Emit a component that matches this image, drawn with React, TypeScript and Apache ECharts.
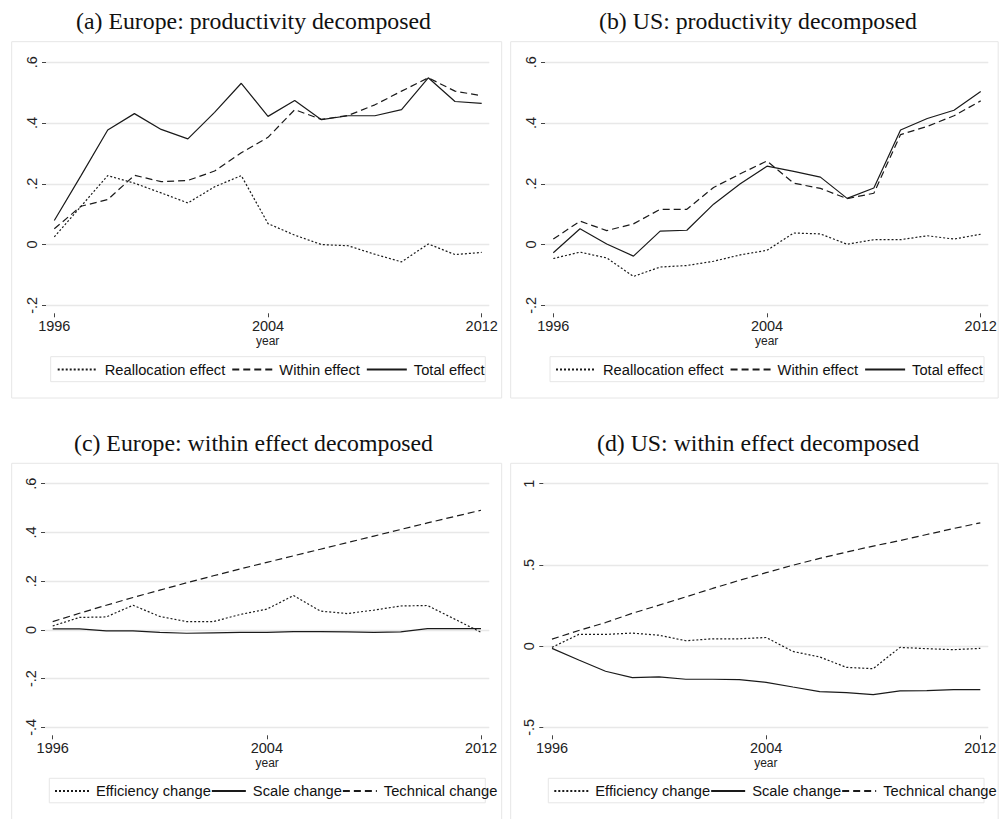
import React, { useEffect, useRef } from "react";
import * as echarts from "echarts";

// ---- data ----
const years = [1996, 1997, 1998, 1999, 2000, 2001, 2002, 2003, 2004, 2005, 2006, 2007, 2008, 2009, 2010, 2011, 2012];
const xTickYears = [1996, 2004, 2012];

// (a) Europe: productivity decomposed
const euReallocation = [0.025, 0.126, 0.227, 0.202, 0.170, 0.137, 0.190, 0.227, 0.069, 0.031, 0.0, -0.004, -0.032, -0.057, 0.002, -0.033, -0.026];
const euWithin = [0.052, 0.126, 0.148, 0.228, 0.207, 0.211, 0.242, 0.302, 0.353, 0.444, 0.412, 0.425, 0.460, 0.505, 0.549, 0.505, 0.490];
const euTotal = [0.079, 0.227, 0.377, 0.431, 0.379, 0.348, 0.435, 0.531, 0.422, 0.474, 0.411, 0.424, 0.424, 0.444, 0.549, 0.471, 0.465];

// (b) US: productivity decomposed
const usReallocation = [-0.046, -0.025, -0.044, -0.105, -0.074, -0.069, -0.055, -0.034, -0.019, 0.038, 0.035, 0.001, 0.016, 0.016, 0.029, 0.018, 0.034];
const usWithin = [0.018, 0.077, 0.046, 0.068, 0.116, 0.116, 0.188, 0.233, 0.275, 0.202, 0.185, 0.151, 0.169, 0.362, 0.389, 0.424, 0.473];
const usTotal = [-0.027, 0.052, 0.002, -0.038, 0.044, 0.047, 0.133, 0.200, 0.258, 0.241, 0.222, 0.152, 0.186, 0.377, 0.415, 0.442, 0.504];

// (c) Europe: within effect decomposed
const euEfficiency = [0.016, 0.051, 0.053, 0.101, 0.055, 0.034, 0.034, 0.063, 0.085, 0.141, 0.077, 0.067, 0.081, 0.098, 0.100, 0.045, -0.010];
const euScale = [0.004, 0.004, -0.004, -0.004, -0.010, -0.014, -0.012, -0.010, -0.010, -0.007, -0.007, -0.008, -0.010, -0.008, 0.005, 0.005, 0.005];
const euTechnical = [0.034, 0.068, 0.101, 0.133, 0.163, 0.193, 0.222, 0.250, 0.277, 0.304, 0.331, 0.358, 0.385, 0.412, 0.439, 0.465, 0.491];

// (d) US: within effect decomposed
const usEfficiency = [-0.008, 0.072, 0.072, 0.080, 0.067, 0.033, 0.045, 0.045, 0.053, -0.033, -0.067, -0.131, -0.139, -0.008, -0.016, -0.022, -0.014];
const usScale = [-0.014, -0.086, -0.155, -0.194, -0.190, -0.204, -0.204, -0.207, -0.223, -0.252, -0.280, -0.286, -0.299, -0.276, -0.274, -0.268, -0.268];
const usTechnical = [0.043, 0.096, 0.145, 0.202, 0.252, 0.303, 0.355, 0.405, 0.452, 0.498, 0.540, 0.579, 0.616, 0.650, 0.687, 0.724, 0.759];

const titles = [
  "(a) Europe: productivity decomposed",
  "(b) US: productivity decomposed",
  "(c) Europe: within effect decomposed",
  "(d) US: within effect decomposed",
];
const legendTop = ["Reallocation effect", "Within effect", "Total effect"];
const legendBottom = ["Efficiency change", "Scale change", "Technical change"];
const xAxisName = "year";

// ---- styles / layout ----
const DOTTED = [2, 2];
const DASHED = [7, 4];
const LINE_COLOR = "#1a1a1a";
const SANS = "'Liberation Sans', Arial, sans-serif";
const SERIF = "'Liberation Serif', 'Times New Roman', serif";

type Panel = {
  gl: number; gr: number; x0: number; x1: number; top: number; bottom: number;
  ymin: number; ymax: number; step: number;
  box: number[]; legendLeft: number; legendCy: number; legendBox: number[];
  titleX: number; titleY: number; legendItemWidth: number; legendGap: number;
  names: string[]; series: { name: string; data: number[]; dash: number[] | "solid" }[];
};

const panels: Panel[] = [
  {
    gl: 46, gr: 489.3, x0: 54.3, x1: 481.7, top: 62.3, bottom: 305.3, ymin: -0.2, ymax: 0.6, step: 0.2,
    box: [11.7, 41.7, 490, 356.3], legendLeft: 56.7, legendCy: 369, legendBox: [50.7, 356.7, 434.6, 25],
    titleX: 253.5, titleY: 21, legendItemWidth: 40, legendGap: 6, names: legendTop,
    series: [
      { name: legendTop[0], data: euReallocation, dash: DOTTED },
      { name: legendTop[1], data: euWithin, dash: DASHED },
      { name: legendTop[2], data: euTotal, dash: "solid" },
    ],
  },
  {
    gl: 545, gr: 988.3, x0: 553.3, x1: 980.7, top: 62.3, bottom: 305.3, ymin: -0.2, ymax: 0.6, step: 0.2,
    box: [510.7, 41.7, 487.5, 356.3], legendLeft: 555, legendCy: 369, legendBox: [550, 356.7, 434, 25],
    titleX: 758, titleY: 21, legendItemWidth: 40, legendGap: 6, names: legendTop,
    series: [
      { name: legendTop[0], data: usReallocation, dash: DOTTED },
      { name: legendTop[1], data: usWithin, dash: DASHED },
      { name: legendTop[2], data: usTotal, dash: "solid" },
    ],
  },
  {
    gl: 45, gr: 489.3, x0: 52.7, x1: 481, top: 483.7, bottom: 727.3, ymin: -0.4, ymax: 0.6, step: 0.2,
    box: [11.7, 463.3, 490, 400], legendLeft: 54, legendCy: 790.5, legendBox: [49.3, 778.3, 436, 24.5],
    titleX: 253.5, titleY: 442.5, legendItemWidth: 34, legendGap: 0, names: legendBottom,
    series: [
      { name: legendBottom[0], data: euEfficiency, dash: DOTTED },
      { name: legendBottom[1], data: euScale, dash: "solid" },
      { name: legendBottom[2], data: euTechnical, dash: DASHED },
    ],
  },
  {
    gl: 543.3, gr: 988.3, x0: 552, x1: 980.3, top: 483.7, bottom: 727.3, ymin: -0.5, ymax: 1, step: 0.5,
    box: [510.7, 463.3, 487.5, 400], legendLeft: 553.3, legendCy: 790.5, legendBox: [548.3, 778.3, 435.7, 24.5],
    titleX: 758, titleY: 442.5, legendItemWidth: 34, legendGap: 0, names: legendBottom,
    series: [
      { name: legendBottom[0], data: usEfficiency, dash: DOTTED },
      { name: legendBottom[1], data: usScale, dash: "solid" },
      { name: legendBottom[2], data: usTechnical, dash: DASHED },
    ],
  },
];

function fmtY(v: number): string {
  const r = Math.round(v * 100) / 100;
  if (r === 0) return "0";
  if (Number.isInteger(r)) return String(r);
  return String(r).replace("0.", ".");
}

function buildOption() {
  const grid: any[] = [];
  const xAxis: any[] = [];
  const yAxis: any[] = [];
  const series: any[] = [];
  const legend: any[] = [];
  const graphic: any[] = [];

  panels.forEach((p, i) => {
    const pxPerYear = (p.x1 - p.x0) / (years[years.length - 1] - years[0]);
    const xmin = years[0] - (p.x0 - p.gl) / pxPerYear;
    const xmax = years[years.length - 1] + (p.gr - p.x1) / pxPerYear;

    grid.push({
      left: p.gl, top: p.top, width: p.gr - p.gl, height: p.bottom - p.top,
      containLabel: false, outerBoundsMode: "none",
    });
    xAxis.push({
      type: "value", gridIndex: i, min: xmin, max: xmax, offset: 8, position: "bottom",
      axisLine: { show: false, onZero: false },
      axisTick: { show: true, customValues: xTickYears, length: 4, lineStyle: { color: "#444", width: 1 } },
      axisLabel: {
        customValues: xTickYears, formatter: (v: number) => String(v), margin: 5,
        fontFamily: SANS, fontSize: 14.5, color: "#222",
      },
      splitLine: { show: false },
      name: xAxisName, nameLocation: "middle", nameGap: 22, nameMoveOverlap: false,
      nameTextStyle: { fontFamily: SANS, fontSize: 12, color: "#222" },
    });
    yAxis.push({
      type: "value", gridIndex: i, min: p.ymin, max: p.ymax, interval: p.step, position: "left",
      axisLine: { show: false, onZero: false },
      axisTick: { show: true, length: 4, lineStyle: { color: "#444", width: 1 } },
      axisLabel: {
        rotate: 90, margin: 7, formatter: fmtY,
        fontFamily: SANS, fontSize: 14.5, color: "#222",
      },
      splitLine: { show: true, lineStyle: { color: "#e8e8e8", width: 1.3 } },
    });
    p.series.forEach((s) => {
      series.push({
        type: "line", name: s.name, xAxisIndex: i, yAxisIndex: i,
        data: years.map((y, k) => [y, s.data[k]]),
        symbol: "none", showSymbol: false,
        lineStyle: { color: LINE_COLOR, width: 1.2, type: s.dash },
        itemStyle: { color: LINE_COLOR },
        emphasis: { disabled: true },
      });
    });
    legend.push({
      data: p.names, left: p.legendLeft, top: p.legendCy - 7, orient: "horizontal",
      padding: 0, itemWidth: p.legendItemWidth, itemHeight: 14, itemGap: p.legendGap,
      selectedMode: false,
      itemStyle: { opacity: 0, color: "transparent", borderWidth: 0 },
      textStyle: { fontFamily: SANS, fontSize: 14.7, color: "#111", padding: [0, 0, 0, 2] },
    });
    graphic.push({
      type: "rect", silent: true, z: -1,
      shape: { x: p.box[0], y: p.box[1], width: p.box[2], height: p.box[3] },
      style: { fill: "none", stroke: "#e6e6e6", lineWidth: 1 },
    });
    graphic.push({
      type: "rect", silent: true, z: -1,
      shape: { x: p.legendBox[0], y: p.legendBox[1], width: p.legendBox[2], height: p.legendBox[3] },
      style: { fill: "none", stroke: "#e6e6e6", lineWidth: 1 },
    });
    graphic.push({
      type: "text", silent: true, x: p.titleX, y: p.titleY,
      style: {
        text: titles[i], align: "center", verticalAlign: "middle",
        font: `23.8px ${SERIF}`, fill: "#111",
      },
    });
  });

  return {
    animation: false,
    backgroundColor: "#ffffff",
    grid, xAxis, yAxis, series, legend, graphic,
  };
}

export default function App() {
  const ref = useRef<HTMLDivElement | null>(null);
  useEffect(() => {
    if (!ref.current) return;
    const chart = echarts.init(ref.current, undefined, { renderer: "svg" });
    chart.setOption(buildOption() as any);
    return () => chart.dispose();
  }, []);
  return (
    <div
      ref={ref}
      style={{ position: "fixed", left: 0, top: 0, width: 999, height: 819, background: "#fff" }}
    />
  );
}
